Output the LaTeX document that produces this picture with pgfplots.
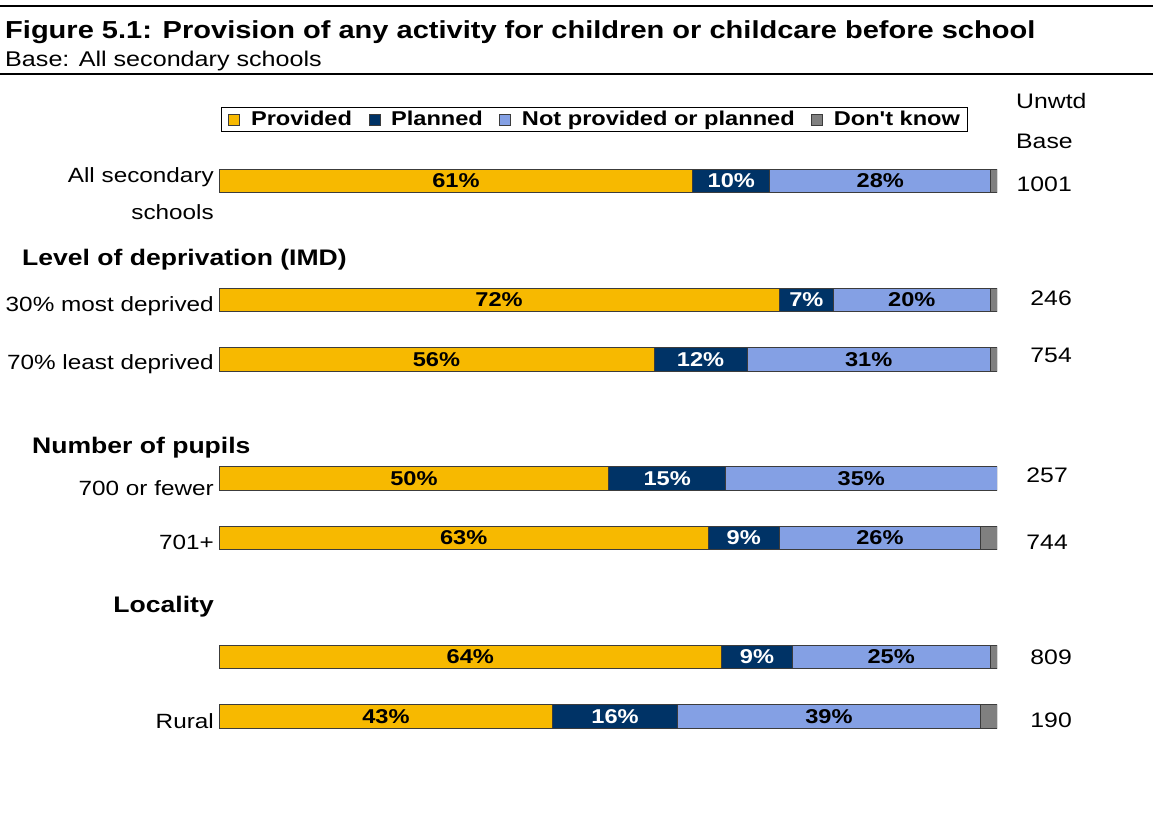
\documentclass[border=0pt]{standalone}
\usepackage{pgfplots}
\pgfplotsset{compat=1.18}
\usepackage{pgfplotstable}
\usepackage{fontspec}
\setmainfont[FakeStretch=1.18,Ligatures=TeXOff]{Liberation Sans}
\definecolor{prov}{RGB}{247,185,0}
\definecolor{plan}{RGB}{0,51,102}
\definecolor{notp}{RGB}{132,160,228}
\definecolor{dkn}{RGB}{128,128,128}
\definecolor{edge}{RGB}{60,60,60}
\newcommand{\fs}[1]{\fontsize{#1}{#1}\selectfont}

% y: row position; p, pl, np, dk: shares (%); lp, lpl, lnp: printed labels
\pgfplotstableread{
y  p    pl   np   dk   lp lpl lnp
0  60.9 9.9  28.4 0.8  61 10  28
-2 72.0 7.0  20.1 0.9  72 7   20
-3 55.9 12.0 31.2 0.9  56 12  31
-5 50.1 15.0 34.9 0.0  50 15  35
-6 62.9 9.1  25.9 2.1  63 9   26
-8 64.6 9.1  25.4 0.9  64 9   25
-9 42.9 16.0 39.0 2.1  43 16  39
}\datatable

\pgfplotsset{
  sqleg/.style={legend image code/.code={\draw[##1,line width=0.6pt] (0pt,-5.5pt) rectangle (11pt,5.5pt);}},
  geom/.style={at={(219pt,-776pt)}, anchor=south west, scale only axis,
    width=778pt, height=669pt, xmin=0, xmax=100, ymin=-10, ymax=1.2437, hide axis},
}

\begin{document}
\begin{tikzpicture}
\path[use as bounding box] (0,0) rectangle (1153pt,-812pt);
\draw[line width=2pt] (0,-6pt) -- (1153pt,-6pt);
\draw[line width=2pt] (0,-74pt) -- (1153pt,-74pt);
\node[anchor=base west,inner sep=0] at (5pt,-38pt) {\fs{24.6}\bfseries Figure 5.1: Provision of any activity for children or childcare before school};
\node[anchor=base west,inner sep=0] at (5pt,-66pt) {\fs{21.3}Base: All secondary schools};

\begin{axis}[geom,
  xbar stacked, bar width=23.5pt,
  legend columns=4,
  legend style={at={(0.0026,1)}, anchor=north west, draw=black, line width=0.8pt,
    font=\bfseries\fs{20}, inner xsep=7pt, inner ysep=4pt,
    nodes={inner sep=0pt, anchor=west},
    /tikz/every odd column/.append style={column sep=11pt},
    /tikz/every even column/.append style={column sep=16.5pt}},
]
\addplot[fill=prov, draw=edge, line width=0.8pt, sqleg] table[x=p,y=y]{\datatable};
\addlegendentry{Provided}
\addplot[fill=plan, draw=edge, line width=0.8pt, sqleg] table[x=pl,y=y]{\datatable};
\addlegendentry{Planned}
\addplot[fill=notp, draw=edge, line width=0.8pt, sqleg] table[x=np,y=y]{\datatable};
\addlegendentry{Not provided or planned}
\addplot[fill=dkn, draw=edge, line width=0.8pt, sqleg] table[x=dk,y=y]{\datatable};
\addlegendentry{Don't know}
\end{axis}

\begin{axis}[geom,
  every node near coord/.append style={anchor=center, font=\bfseries\fs{20}},
]
\addplot[draw=none, mark=none, nodes near coords={\pgfplotspointmeta\%}, point meta=explicit symbolic]
  table[x expr=\thisrow{p}/2, y=y, meta=lp]{\datatable};
\addplot[draw=none, mark=none, nodes near coords={\pgfplotspointmeta\%}, point meta=explicit symbolic,
  every node near coord/.append style={text=white}]
  table[x expr=\thisrow{p}+\thisrow{pl}/2, y=y, meta=lpl]{\datatable};
\addplot[draw=none, mark=none, nodes near coords={\pgfplotspointmeta\%}, point meta=explicit symbolic]
  table[x expr=\thisrow{p}+\thisrow{pl}+\thisrow{np}/2, y=y, meta=lnp]{\datatable};
\end{axis}

% category labels
\begin{scope}[every node/.style={inner sep=0, font=\fs{20.6}}]
\node[anchor=base east] at (214pt,-182pt) {All secondary};
\node[anchor=base east] at (214pt,-219pt) {schools};
\node[anchor=base west,font=\fs{22.5}\bfseries] at (22pt,-265pt) {Level of deprivation (IMD)};
\node[anchor=base east] at (214pt,-311pt) {30\% most deprived};
\node[anchor=base east] at (214pt,-369pt) {70\% least deprived};
\node[anchor=base west,font=\fs{22.5}\bfseries] at (32pt,-453pt) {Number of pupils};
\node[anchor=base east] at (214pt,-495pt) {700 or fewer};
\node[anchor=base east] at (214pt,-549pt) {701+};
\node[anchor=base east,font=\fs{22.5}\bfseries] at (214pt,-612pt) {Locality};
\node[anchor=base east] at (214pt,-728pt) {Rural};
% unweighted bases
\node[anchor=base west,font=\fs{21}] at (1016pt,-108pt) {Unwtd};
\node[anchor=base west,font=\fs{21}] at (1016pt,-148pt) {Base};
\node[anchor=base east,font=\fs{21}] at (1072pt,-191pt) {1001};
\node[anchor=base east,font=\fs{21}] at (1072pt,-305pt) {246};
\node[anchor=base east,font=\fs{21}] at (1072pt,-362pt) {754};
\node[anchor=base east,font=\fs{21}] at (1068pt,-482pt) {257};
\node[anchor=base east,font=\fs{21}] at (1068pt,-549pt) {744};
\node[anchor=base east,font=\fs{21}] at (1072pt,-664pt) {809};
\node[anchor=base east,font=\fs{21}] at (1072pt,-727pt) {190};
\end{scope}
\end{tikzpicture}
\end{document}
